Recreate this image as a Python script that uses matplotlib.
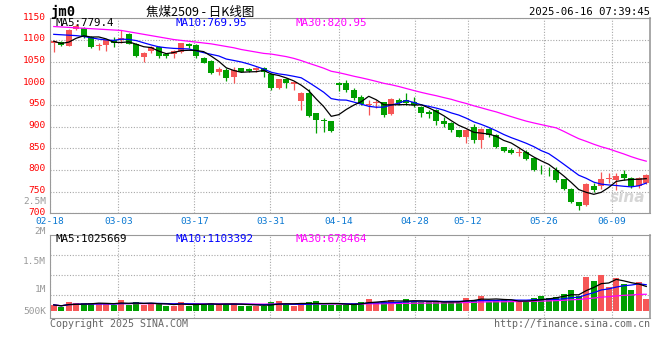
import numpy as np
import pandas as pd
import matplotlib.pyplot as plt
from matplotlib.transforms import ScaledTranslation

# daily K line of jm0 (coking coal 2509), 02-18 .. 06-16
tick_labels = ['02-18', '03-03', '03-17', '03-31', '04-14', '04-28', '05-12', '05-26', '06-09']
tick_days = [0, 9, 19, 29, 38, 48, 55, 65, 74]

opens = [1092, 1095, 1087, 1125, 1128, 1107, 1085, 1088, 1100, 1099,
         1114, 1091, 1060, 1075, 1083, 1068, 1068, 1072, 1090, 1088,
         1059, 1052, 1027, 1031, 1015, 1035, 1033, 1031, 1035, 1021,
         989, 1010, 998, 960, 977, 931, 916, 912, 1000, 1000,
         985, 968, 950, 954, 956, 929, 961, 961, 956, 946,
         934, 939, 913, 909, 892, 877, 900, 869, 895, 881,
         852, 846, 840, 842, 827, 801, 801, 800, 779, 756,
         725, 719, 762, 764, 779, 777, 790, 781, 763, 769]
highs = [1099, 1097, 1125, 1136, 1131, 1109, 1093, 1103, 1108, 1122,
         1116, 1093, 1073, 1085, 1086, 1069, 1078, 1094, 1092, 1090,
         1060, 1054, 1038, 1035, 1038, 1036, 1035, 1038, 1037, 1023,
         1011, 1012, 1004, 979, 988, 932, 919, 913, 1004, 1008,
         990, 972, 962, 962, 958, 966, 965, 977, 968, 948,
         938, 940, 923, 911, 893, 894, 906, 897, 898, 883,
         853, 850, 850, 846, 828, 811, 808, 808, 780, 758,
         726, 769, 769, 796, 792, 792, 800, 783, 783, 790]
lows = [1073, 1085, 1086, 1122, 1105, 1082, 1077, 1075, 1084, 1094,
        1090, 1060, 1050, 1069, 1059, 1058, 1058, 1070, 1081, 1058,
        1046, 1021, 1019, 1006, 1000, 1025, 1025, 1027, 1015, 985,
        986, 990, 985, 938, 923, 885, 888, 887, 982, 981,
        962, 950, 927, 944, 923, 926, 949, 950, 946, 923,
        919, 904, 900, 887, 876, 863, 862, 850, 877, 850,
        841, 836, 833, 823, 798, 790, 787, 773, 754, 723,
        708, 718, 750, 756, 771, 754, 777, 758, 758, 767]
closes = [1098, 1088, 1123, 1132, 1107, 1084, 1089, 1100, 1093, 1105,
          1091, 1062, 1071, 1083, 1064, 1062, 1075, 1093, 1087, 1062,
          1048, 1023, 1034, 1012, 1031, 1027, 1028, 1036, 1027, 989,
          1010, 1000, 1002, 977, 925, 915, 912, 890, 996, 985,
          965, 952, 952, 956, 927, 964, 954, 954, 949, 931,
          929, 912, 905, 892, 877, 892, 869, 895, 881, 852,
          844, 839, 842, 825, 800, 799, 799, 777, 756, 725,
          717, 767, 754, 779, 781, 787, 781, 763, 781, 788]
volumes = [260000, 180000, 380000, 330000, 330000, 330000, 330000, 330000, 260000, 480000,
           260000, 380000, 260000, 330000, 330000, 230000, 230000, 380000, 230000, 330000,
           260000, 330000, 290000, 290000, 330000, 230000, 230000, 230000, 210000, 380000,
           440000, 290000, 230000, 290000, 380000, 440000, 260000, 260000, 260000, 260000,
           350000, 410000, 530000, 380000, 410000, 480000, 380000, 530000, 440000, 380000,
           380000, 380000, 380000, 440000, 410000, 590000, 480000, 680000, 410000, 480000,
           480000, 410000, 380000, 410000, 590000, 680000, 590000, 630000, 750000, 930000,
           680000, 1530000, 1340000, 1610000, 1080000, 1490000, 1200000, 930000, 1310000, 530000]

# moving averages before enough history is on the chart
ma5_head = [1097, 1092, 1095, 1104]
ma10_head = [1113, 1112, 1111, 1110, 1108, 1105, 1102, 1100, 1099]
ma30_head = [1131, 1130, 1129, 1128, 1127, 1126, 1125, 1124, 1123, 1122,
             1119, 1116, 1113, 1110, 1107, 1104, 1101, 1099, 1097, 1095,
             1093, 1091, 1088, 1085, 1082, 1078, 1075, 1072, 1069]

RED = '#f65656'
GREEN = '#009f00'
GRID = '#a8a8a8'
MONO = 'DejaVu Sans Mono'

n = len(closes)
x = np.arange(n)
o = np.array(opens, float)
c = np.array(closes, float)
colors = [RED if c[i] >= o[i] else GREEN for i in range(n)]

cs = pd.Series(c)
ma5 = cs.rolling(5).mean().values
ma10 = cs.rolling(10).mean().values
ma30 = cs.rolling(30).mean().values
ma5[:4] = ma5_head
ma10[:9] = ma10_head
ma30[:29] = ma30_head

vs = pd.Series(volumes, dtype=float)
vma5 = vs.rolling(5, min_periods=1).mean().values
vma10 = vs.rolling(10, min_periods=1).mean().values
vma30 = vs.rolling(30, min_periods=1).mean().values

W, H = 660, 360


def fx(px):
    return px / W


def fy(py):
    return 1 - py / H


fig = plt.figure(figsize=(6.6, 3.6), dpi=100)
ax = fig.add_axes([fx(50), fy(213.3), 600 / W, 195 / H])
vax = fig.add_axes([fx(50), fy(318), 600 / W, 83 / H])

# grid positions: sina spreads the date grid over (n-1) steps
grid_x = np.array(tick_days) * n / (n - 1) - 0.5

for a in (ax, vax):
    a.set_xlim(-0.5, n - 0.5)
    a.set_xticks(grid_x)
    a.grid(True, color=GRID, linestyle=(0, (1, 1.5)), linewidth=0.8)
    a.set_axisbelow(True)
    for s in ('left', 'top', 'bottom'):
        a.spines[s].set_color('#999999')
        a.spines[s].set_linestyle((0, (1, 1)))
    a.spines['right'].set_color('#999999')
    a.spines['right'].set_linewidth(1.2)
    a.tick_params(length=0)

# candles
body = np.abs(c - o)
body[body < 0.8] = 0.8
ax.vlines(x, lows, highs, colors=colors, linewidth=0.9, zorder=2)
ax.bar(x, body, bottom=np.minimum(o, c), width=0.78, color=colors, zorder=3)
ax.plot(x, ma30, color='#ff00ff', linewidth=0.9, zorder=4)
ax.plot(x, ma10, color='#0000ff', linewidth=0.9, zorder=4)
ax.plot(x, ma5, color='black', linewidth=0.9, zorder=4)

ax.set_ylim(700, 1150)
ax.set_yticks(np.arange(700, 1151, 50))
ax.set_yticklabels([str(v) for v in range(700, 1151, 50)], color='red',
                   fontsize=6.8, family=MONO)
ax.tick_params(axis='y', pad=3)
up = ScaledTranslation(0, 2 / 100, fig.dpi_scale_trans)
for lab in ax.get_yticklabels():
    lab.set_transform(lab.get_transform() + up)
ax.set_xticklabels(tick_labels, color='#0a78d2', fontsize=6.8, family=MONO)
ax.tick_params(axis='x', pad=3)

# volume
vax.bar(x, volumes, width=0.78, color=colors, zorder=3)
vax.plot(x, vma30, color='#ff00ff', linewidth=0.9, zorder=4)
vax.plot(x, vma10, color='#0000ff', linewidth=0.9, zorder=4)
vax.plot(x, vma5, color='black', linewidth=0.9, zorder=4)
vlim = (-0.33e6, 3.41e6)
vax.set_ylim(*vlim)
vax.set_yticks(vlim[1] - np.array([20, 40, 60]) / 83 * (vlim[1] - vlim[0]))
vax.set_yticklabels([])
vax.set_xticklabels([])

# texts
fig.text(fx(50), fy(12), 'jm0', fontsize=10, fontweight='bold', family=MONO, va='center')
fig.text(fx(200), fy(12), '焦煤2509 - 日K线图', fontsize=9, va='center', ha='center',
         family=['Noto Sans CJK SC', 'DejaVu Sans'])
fig.text(fx(650), fy(12), '2025-06-16 07:39:45', fontsize=7.6, family=MONO,
         ha='right', va='center')

fig.text(fx(55), fy(23.5), 'MA5:779.4', fontsize=7.8, family=MONO, va='center', color='black')
fig.text(fx(175), fy(23.5), 'MA10:769.95', fontsize=7.8, family=MONO, va='center', color='#0000ff')
fig.text(fx(295), fy(23.5), 'MA30:820.95', fontsize=7.8, family=MONO, va='center', color='#ff00ff')

fig.text(fx(55), fy(239), 'MA5:1025669', fontsize=7.8, family=MONO, va='center', color='black')
fig.text(fx(175), fy(239), 'MA10:1103392', fontsize=7.8, family=MONO, va='center', color='#0000ff')
fig.text(fx(295), fy(239), 'MA30:678464', fontsize=7.8, family=MONO, va='center', color='#ff00ff')

for lab, py in [('2.5M', 201), ('2M', 231), ('1.5M', 261), ('1M', 290), ('500K', 311)]:
    fig.text(fx(46), fy(py), lab, fontsize=6.8, family=MONO, ha='right', va='center',
             color='#999999')

fig.text(fx(50), fy(324), 'Copyright 2025 SINA.COM', fontsize=7.2, family=MONO,
         va='center', color='#666666')
fig.text(fx(650), fy(324), 'http://finance.sina.com.cn', fontsize=7.2, family=MONO,
         va='center', ha='right', color='#666666')
fig.text(fx(628), fy(197), 'sina', fontsize=11, fontweight='bold', style='italic',
         ha='center', va='center', color='#cccccc', alpha=0.8)

fig.savefig('out.png', dpi=100, facecolor='white')
